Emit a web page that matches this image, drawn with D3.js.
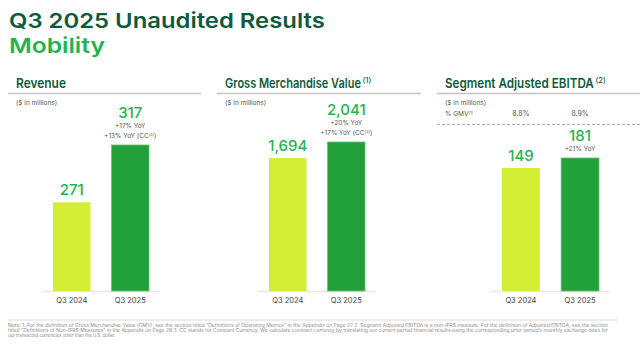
<!DOCTYPE html>
<html>
<head>
<meta charset="utf-8">
<script src="https://cdn.jsdelivr.net/npm/d3@7"></script>
<style>
  body { margin: 0; background: #fff; }
  svg { display: block; font-family: Inter, "Noto Sans", sans-serif; }
</style>
</head>
<body>
<div id="chart"></div>
<script>
// data
let periods   = ["Q3 2024", "Q3 2025"];
let revenue   = [271, 317];
let gmv       = [1694, 2041];
let ebitda    = [149, 181];
let gmvMargin = ["8.8%", "8.9%"];

// growth notes above the Q3 2025 bar: [text, superscript]
let revenueNotes = [["+17% YoY", ""], ["+13% YoY (CC", "(3)"]];
let gmvNotes     = [["+20% YoY", ""], ["+17% YoY (CC", "(3)"]];
let ebitdaNotes  = [["+21% YoY", ""]];

let noteLines = [
  "Note: 1. For the definition of Gross Merchandise Value (GMV), see the section titled \u201cDefinitions of Operating Metrics\u201d in the Appendix on Page 27 2. Segment Adjusted EBITDA is a non-IFRS measure. For the definition of Adjusted EBITDA, see the section",
  "titled \u201cDefinitions of Non-IFRS Measures\u201d in the Appendix on Page 28 3. CC stands for Constant Currency. We calculate constant currency by translating our current period financial results using the corresponding prior period\u2019s monthly exchange rates for",
  "our transacted currencies other than the U.S. dollar."
];

let width = 640, height = 351;
let baseY = 291;

let colors = { dark: "#0d5b3c", bright: "#1fb54e", lime: "#d4ee35", green: "#22a13a" };

let svg = d3.select("#chart").append("svg")
    .attr("width", width)
    .attr("height", height);

// squeeze a text horizontally so it spans w pixels
function fitText(sel, x, y, w) {
  let natural = sel.node().getComputedTextLength();
  sel.attr("transform", "translate(" + x + "," + y + ") scale(" + (w / natural) + ",1)");
  return sel;
}

// page title
fitText(svg.append("text")
    .attr("font-size", 20.5).attr("font-weight", 600)
    .attr("fill", colors.dark)
    .text("Q3 2025 Unaudited Results"), 9, 28, 316);

fitText(svg.append("text")
    .attr("font-size", 20.5).attr("font-weight", 600)
    .attr("fill", colors.bright)
    .text("Mobility"), 9, 53, 96);

let panels = [
  { title: "Revenue", sup: "", values: revenue, notes: revenueNotes,
    x0: 8, x1: 201, bars: [53, 149], axis: [42, 160], domainMin: 200, topPx: 145, titleW: 50 },
  { title: "Gross Merchandise Value", sup: "(1)", values: gmv, notes: gmvNotes,
    x0: 217, x1: 421, bars: [269, 365], axis: [258, 375], domainMin: -1190, topPx: 142, titleW: 136 },
  { title: "Segment Adjusted EBITDA", sup: "(2)", values: ebitda, notes: ebitdaNotes,
    x0: 437, x1: 640, bars: [502, 599], axis: [490, 609], domainMin: -245, topPx: 158, titleW: 149, margin: gmvMargin }
];

panels.forEach(function(p) {
  let g = svg.append("g");

  fitText(g.append("text")
      .attr("font-size", 13.5).attr("font-weight", 600)
      .attr("fill", colors.dark)
      .text(p.title), p.x0 + 8, 88, p.titleW);
  if (p.sup) {
    g.append("text")
        .attr("x", p.x0 + 8 + p.titleW + 1.5).attr("y", 83)
        .attr("font-size", 7.5).attr("font-weight", 500)
        .attr("fill", colors.dark)
        .text(p.sup);
  }

  g.append("line")
      .attr("x1", p.x0).attr("x2", p.x1)
      .attr("y1", 93.5).attr("y2", 93.5)
      .attr("stroke", "#c4c4c4").attr("stroke-width", 1.5);

  g.append("text")
      .attr("x", p.x0 + 8).attr("y", 105)
      .attr("font-size", 6.5).attr("fill", "#555")
      .text("($ in millions)");

  let x = d3.scaleBand()
      .domain(periods)
      .range(p.bars)
      .paddingInner(0.36);

  let y = d3.scaleLinear()
      .domain([p.domainMin, d3.max(p.values)])
      .range([baseY, p.topPx]);

  if (p.margin) {
    let m = g.append("text")
        .attr("x", p.x0 + 8).attr("y", 116)
        .attr("font-size", 6.5).attr("fill", "#555");
    m.append("tspan").text("% GMV");
    m.append("tspan").attr("font-size", 4).attr("dy", -2.5).text("(1)");

    g.selectAll(".margin")
      .data(p.margin)
      .enter().append("text")
        .attr("x", function(d, i) { return x(periods[i]) + x.bandwidth() / 2; })
        .attr("y", 116)
        .attr("text-anchor", "middle")
        .attr("font-size", 7).attr("fill", "#555")
        .text(function(d) { return d; });

    g.append("line")
        .attr("x1", p.x0).attr("x2", p.x1)
        .attr("y1", 124.5).attr("y2", 124.5)
        .attr("stroke", "#999").attr("stroke-width", 0.8)
        .attr("stroke-dasharray", "3,2");
  }

  g.append("line")
      .attr("x1", p.axis[0]).attr("x2", p.axis[1])
      .attr("y1", baseY + 0.5).attr("y2", baseY + 0.5)
      .attr("stroke", "#e6e6e6").attr("stroke-width", 1.5);

  g.selectAll(".bar")
    .data(p.values)
    .enter().append("rect")
      .attr("x", function(d, i) { return x(periods[i]); })
      .attr("y", function(d) { return y(d); })
      .attr("width", x.bandwidth())
      .attr("height", function(d) { return baseY - y(d); })
      .attr("fill", function(d, i) { return i == 0 ? colors.lime : colors.green; })
      .attr("stroke", function(d, i) { return i == 0 ? "none" : "#63c476"; })
      .attr("stroke-width", 0.8);

  g.selectAll(".cat")
    .data(periods)
    .enter().append("text")
      .attr("x", function(d) { return x(d) + x.bandwidth() / 2; })
      .attr("y", 303)
      .attr("text-anchor", "middle")
      .attr("font-size", 7.5).attr("fill", "#444")
      .text(function(d) { return d; });

  g.selectAll(".val")
    .data(p.values)
    .enter().append("text")
      .attr("x", function(d, i) { return x(periods[i]) + x.bandwidth() / 2; })
      .attr("y", function(d, i) {
        let n = i == 1 ? p.notes.length : 0;
        return y(d) - 7 - 10 * n;
      })
      .attr("text-anchor", "middle")
      .attr("font-size", 15).attr("font-weight", 500)
      .attr("fill", colors.bright)
      .text(function(d) { return d3.format(",")(d); });

  let cx = x(periods[1]) + x.bandwidth() / 2;
  let top = y(p.values[1]);
  p.notes.forEach(function(note, k) {
    let t = g.append("text")
        .attr("x", cx)
        .attr("y", top - 7 - 10 * (p.notes.length - 1 - k))
        .attr("text-anchor", "middle")
        .attr("font-size", 6.5).attr("fill", "#555");
    t.append("tspan").text(note[0]);
    if (note[1]) {
      t.append("tspan").attr("font-size", 4).attr("dy", -2.5).text(note[1]);
      t.append("tspan").attr("dy", 2.5).text(")");
    }
  });
});

// footnote
svg.append("line")
    .attr("x1", 8).attr("x2", 617)
    .attr("y1", 320).attr("y2", 320)
    .attr("stroke", "#ececec").attr("stroke-width", 2);

svg.selectAll(".note")
  .data(noteLines)
  .enter().append("text")
    .attr("x", 8)
    .attr("y", function(d, i) { return 327 + i * 5; })
    .attr("font-size", 4.4).attr("fill", "#8a8a8a")
    .attr("textLength", function(d, i) { return i < 2 ? 600 : null; })
    .attr("lengthAdjust", "spacingAndGlyphs")
    .text(function(d) { return d; });
</script>
</body>
</html>
